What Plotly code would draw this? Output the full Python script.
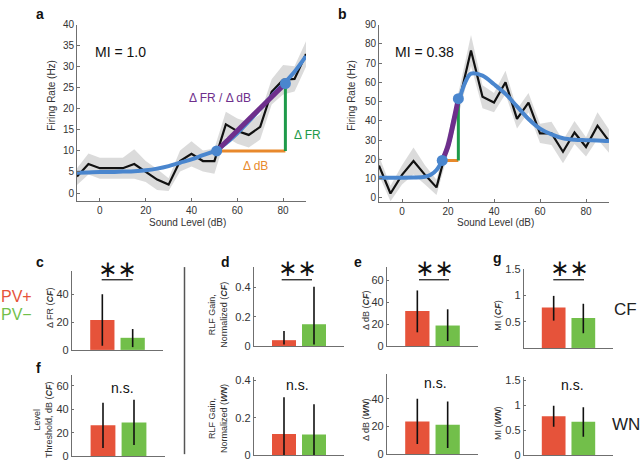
import plotly.graph_objects as go

W, H = 640, 466

# ---------------- Panel a data ----------------
a_level = [-10, -5, 0, 5, 10, 15, 20, 25, 30, 35, 40, 45, 50, 55, 60, 65, 70, 75, 80, 85, 90]
a_rate = [3.9, 6.9, 5.9, 5.9, 5.9, 6.9, 5.1, 3.2, 2.0, 7.6, 9.3, 7.6, 7.6, 16.3, 14.7, 13.8, 15.7, 24.0, 26.9, 27.1, 33.0]
a_sem = [2.0, 2.5, 2.5, 2.5, 2.5, 3.5, 2.5, 2.5, 1.5, 2.5, 3.0, 2.5, 3.0, 3.0, 3.0, 3.0, 3.0, 3.0, 3.5, 3.0, 3.0]
a_fit_level = [-10, -5, 0, 5, 10, 15, 20, 25, 30, 35, 40, 45, 50, 55, 60, 65, 70, 75, 80, 85, 90]
a_fit = [4.8, 4.9, 5.0, 5.0, 5.1, 5.2, 5.4, 5.8, 6.4, 7.2, 8.0, 9.0, 10.0, 11.8, 14.2, 17.0, 20.0, 23.0, 25.8, 28.8, 32.5]
a_pts_level = [51, 81]
a_pts_rate = [10, 26]

# ---------------- Panel b data ----------------
b_level = [-10, -5, 0, 5, 10, 15, 20, 25, 30, 35, 40, 45, 50, 55, 60, 65, 70, 75, 80, 85, 90]
b_rate = [16.8, 2.3, 12.0, 19.2, 12.0, 5.5, 28.0, 51.0, 76.5, 52.5, 49.5, 60.0, 41.0, 49.5, 33.5, 33.5, 24.0, 34.0, 26.5, 37.5, 29.5]
b_sem = [5, 4, 5, 7, 5, 4, 5, 6, 8, 6, 5, 6, 5, 5, 5, 6, 6, 6, 5, 7, 6]
b_fit_level = [-10, -5, 0, 5, 10, 12.5, 15, 17.5, 20, 22.5, 25, 27.5, 30, 35, 40, 45, 50, 55, 60, 65, 70, 75, 80, 85, 90]
b_fit = [10.5, 10.5, 10.5, 10.6, 11.0, 12.0, 14.5, 19.5, 27.0, 40.0, 51.5, 60.0, 64.5, 63.5, 59.0, 54.0, 47.5, 41.0, 36.0, 33.0, 31.0, 30.2, 30.0, 29.8, 29.5]
b_pts_level = [17.5, 24.5]
b_pts_rate = [19.5, 51.5]
b_slope_level = [17.5, 20, 22.5, 24.5]
b_slope_rate = [19.5, 27.0, 40.0, 51.5]

# ---------------- Bar panels (PV+, PV-) ----------------
groups = ["PV+", "PV−"]
c_val = [21.5, 8.7];   c_lo = [3, 2];      c_hi = [40, 15]
f_val = [26.4, 28.6];  f_lo = [7, 9.5];    f_hi = [45.5, 48]
dcf_val = [0.04, 0.149]; dcf_lo = [0.01, 0.01]; dcf_hi = [0.103, 0.405]
dwn_val = [0.113, 0.11]; dwn_lo = [0.0, 0.0];   dwn_hi = [0.31, 0.273]
ecf_val = [32, 18.7];  ecf_lo = [12.5, 4.5]; ecf_hi = [50.7, 33.5]
ewn_val = [23.5, 21.2]; ewn_lo = [7.3, 4.5]; ewn_hi = [40, 38]
gcf_val = [0.77, 0.57]; gcf_lo = [0.52, 0.28]; gcf_hi = [0.99, 0.84]
gwn_val = [0.78, 0.67]; gwn_lo = [0.57, 0.37]; gwn_hi = [0.99, 0.96]

RED = "#E6533A"
GREEN = "#72BF4A"
BLUE = "#4A86CE"
PURPLE = "#6E2F8C"
DKGREEN = "#1E9A4A"
ORANGE = "#E8892C"
AXC = "#6f6f6f"
TXT = "#333333"
FONT = "Liberation Sans, Arial, sans-serif"


def px(x):
    return x / W


def py(y):
    return 1 - y / H


def xdom(x0, x1):
    return [px(x0), px(x1)]


def ydom(y0, y1):
    return [py(y1), py(y0)]


fig = go.Figure()
layout = dict(width=W, height=H, margin=dict(l=0, r=0, t=0, b=0),
              plot_bgcolor="white", paper_bgcolor="white", showlegend=False,
              font=dict(family=FONT, color=TXT, size=10))
annotations = []
shapes = []


def note(text, x, y, size, color="#111111", angle=0, xanchor="center", family=None):
    f = dict(size=size, color=color)
    if family:
        f["family"] = family
    annotations.append(dict(x=px(x), y=py(y), xref="paper", yref="paper", text=text, textangle=angle,
                            showarrow=False, xanchor=xanchor, yanchor="middle", font=f))


def add_rlf(idx, lev, rate, sem, fl, fit, pl, pr, sl, sr, xd, yd, yr, ytv, mi_text, mi_xy):
    xa = "x" if idx == 1 else "x%d" % idx
    ya = "y" if idx == 1 else "y%d" % idx
    lower = [r - s for r, s in zip(rate, sem)]
    upper = [r + s for r, s in zip(rate, sem)]
    fig.add_trace(go.Scatter(x=lev, y=lower, mode="lines", line=dict(width=0, color="rgba(0,0,0,0)"),
                             xaxis=xa, yaxis=ya, hoverinfo="skip"))
    fig.add_trace(go.Scatter(x=lev, y=upper, mode="lines", line=dict(width=0, color="rgba(0,0,0,0)"),
                             fill="tonexty", fillcolor="rgba(200,200,200,0.65)", xaxis=xa, yaxis=ya,
                             hoverinfo="skip"))
    fig.add_trace(go.Scatter(x=lev, y=rate, mode="lines", line=dict(color="#111111", width=2.2),
                             xaxis=xa, yaxis=ya))
    fig.add_trace(go.Scatter(x=fl, y=fit, mode="lines", line=dict(color=BLUE, width=4, shape="spline"),
                             xaxis=xa, yaxis=ya))
    fig.add_trace(go.Scatter(x=[pl[0], pl[1]], y=[pr[0], pr[0]], mode="lines",
                             line=dict(color=ORANGE, width=3), xaxis=xa, yaxis=ya))
    fig.add_trace(go.Scatter(x=[pl[1], pl[1]], y=[pr[0], pr[1]], mode="lines",
                             line=dict(color=DKGREEN, width=3), xaxis=xa, yaxis=ya))
    fig.add_trace(go.Scatter(x=sl, y=sr, mode="lines", line=dict(color=PURPLE, width=5, shape="spline"),
                             xaxis=xa, yaxis=ya))
    fig.add_trace(go.Scatter(x=pl, y=pr, mode="markers", marker=dict(color=BLUE, size=11),
                             xaxis=xa, yaxis=ya))
    key = "" if idx == 1 else str(idx)
    layout["xaxis" + key] = dict(domain=xd, range=[-10, 90], tickvals=[0, 20, 40, 60, 80],
                                 showline=True, linecolor=AXC, linewidth=1, ticks="inside", ticklen=3,
                                 tickcolor=AXC, showgrid=False, zeroline=False, anchor=ya,
                                 tickfont=dict(size=10, color=TXT))
    layout["yaxis" + key] = dict(domain=yd, range=yr, tickvals=ytv,
                                 showline=True, linecolor=AXC, linewidth=1, ticks="inside", ticklen=3,
                                 tickcolor=AXC, showgrid=False, zeroline=False, anchor=xa,
                                 tickfont=dict(size=10, color=TXT))
    note(mi_text, mi_xy[0], mi_xy[1], 14)


add_rlf(1, a_level, a_rate, a_sem, a_fit_level, a_fit, a_pts_level, a_pts_rate,
        a_pts_level, a_pts_rate, xdom(77, 306), ydom(19, 200), [-1.85, 40],
        [0, 5, 10, 15, 20, 25, 30, 35, 40], "MI = 1.0", (120, 47))
add_rlf(2, b_level, b_rate, b_sem, b_fit_level, b_fit, b_pts_level, b_pts_rate,
        b_slope_level, b_slope_rate, xdom(379, 609), ydom(19, 201), [-2, 90],
        [0, 10, 20, 30, 40, 50, 60, 70, 80, 90], "MI = 0.38", (424, 47))

note("Δ FR / Δ dB", 220, 94, 12, PURPLE)
note("Δ FR", 307, 132, 12, DKGREEN)
note("Δ dB", 255, 164, 12, ORANGE)
for x in [52, 352]:
    note("Firing Rate (Hz)", x, 92, 10, TXT, angle=-90)
for x in [187, 495]:
    note("Sound Level (dB)", x, 222, 10, TXT)


def add_bar(idx, val, lo, hi, xd, yd, yr, ytv, ylab, ylab_xy, sig, sig_xy, line_px=None):
    xa = "x%d" % idx
    ya = "y%d" % idx
    fig.add_trace(go.Bar(x=[0, 1], y=val, width=0.8, marker=dict(color=[RED, GREEN], line=dict(width=0)),
                         error_y=dict(type="data", symmetric=False,
                                      array=[h - v for h, v in zip(hi, val)],
                                      arrayminus=[v - l for v, l in zip(val, lo)],
                                      color="#111111", thickness=1.6, width=0),
                         xaxis=xa, yaxis=ya, hovertext=groups))
    layout["xaxis%d" % idx] = dict(domain=xd, range=[-1, 2], showticklabels=False, ticks="",
                                   showline=True, linecolor=AXC, linewidth=1.3, showgrid=False,
                                   zeroline=False, anchor=ya)
    layout["yaxis%d" % idx] = dict(domain=yd, range=yr, tickvals=ytv,
                                   showline=True, linecolor=AXC, linewidth=1.3, ticks="inside", ticklen=2,
                                   tickcolor=AXC, showgrid=False, zeroline=False, anchor=xa,
                                   tickfont=dict(size=11, color=TXT))
    note(ylab, ylab_xy[0], ylab_xy[1], 9, TXT, angle=-90)
    if sig == "**":
        note("∗∗", sig_xy[0], sig_xy[1], 23, "#111111", family="DejaVu Sans")
        shapes.append(dict(type="line", xref="paper", yref="paper", x0=px(line_px[0]), x1=px(line_px[1]),
                           y0=py(line_px[2]), y1=py(line_px[2]), line=dict(color="#111111", width=1.2)))
    else:
        note(sig, sig_xy[0], sig_xy[1], 14)


add_bar(3, c_val, c_lo, c_hi, xdom(72, 163), ydom(272, 353), [0, 56.7], [0, 20, 40],
        "Δ FR (<b><i>CF</i></b>)", (50, 310), "**", (117, 270), (101.7, 132.7, 281))
add_bar(4, f_val, f_lo, f_hi, xdom(72, 165), ydom(379, 462), [0, 69], [0, 20, 40, 60],
        "Level<br>Threshold, dB (<b><i>CF</i></b>)", (43, 425), "n.s.", (122, 392))
add_bar(5, dcf_val, dcf_lo, dcf_hi, xdom(254, 344), ydom(268, 349), [0, 0.54], [0, 0.2, 0.4],
        "RLF Gain,<br>Normalized (<b><i>CF</i></b>)", (218, 317), "**", (297, 269), (281.7, 312, 281))
add_bar(6, dwn_val, dwn_lo, dwn_hi, xdom(254, 344), ydom(381, 461), [0, 0.418], [0, 0.2, 0.4],
        "RLF Gain,<br>Normalized (<b><i>WN</i></b>)", (218, 424), "n.s.", (297, 389))
add_bar(7, ecf_val, ecf_lo, ecf_hi, xdom(387, 478), ydom(268, 349), [0, 72], [0, 20, 40, 60],
        "Δ dB (<b><i>CF</i></b>)", (366, 312), "**", (434, 269), (419, 449, 281))
add_bar(8, ewn_val, ewn_lo, ewn_hi, xdom(387, 478), ydom(378, 460), [0, 57.7], [0, 20, 40],
        "Δ dB (<b><i>WN</i></b>)", (366, 425), "n.s.", (435, 387))
add_bar(9, gcf_val, gcf_lo, gcf_hi, xdom(524, 613), ydom(270, 351), [0, 1.5], [0.5, 1, 1.5],
        "MI (<b><i>CF</i></b>)", (498, 318), "**", (569, 269), (553.3, 584, 281))
add_bar(10, gwn_val, gwn_lo, gwn_hi, xdom(524, 613), ydom(381, 461), [0, 1.56], [0, 0.5, 1, 1.5],
        "MI (<b><i>WN</i></b>)", (498, 428), "n.s.", (572, 389))

for t, x, y in [("a", 40, 8), ("b", 342, 8), ("c", 40, 263), ("d", 225, 263), ("e", 358, 263),
                ("f", 38, 372), ("g", 497, 259)]:
    note("<b>%s</b>" % t, x, y, 14)

note(groups[0], -1, 298, 16, RED, xanchor="left")
note(groups[1], -1, 317, 16, GREEN, xanchor="left")
note("CF", 612, 312, 17, "#222222", xanchor="left")
note("WN", 610, 430, 17, "#222222", xanchor="left")

shapes.append(dict(type="line", xref="paper", yref="paper", x0=px(184.5), x1=px(184.5), y0=py(268), y1=py(460),
                   line=dict(color="#555555", width=1.5)))

layout["annotations"] = annotations
layout["shapes"] = shapes
fig.update_layout(**layout)
fig.write_html("out.html", config={"displayModeBar": False},
               post_script="document.body.style.margin='0';document.body.style.overflow='hidden';")
